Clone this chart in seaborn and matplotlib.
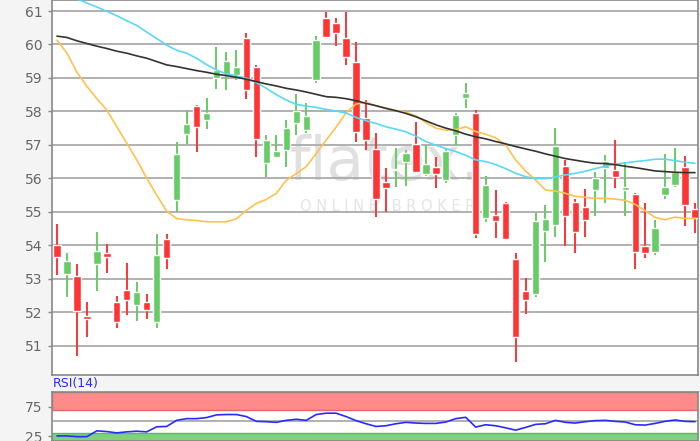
import numpy as np
import pandas as pd
import seaborn as sns
import matplotlib.pyplot as plt

opens = [54.00, 53.14, 53.08, 51.87, 53.44, 53.78, 52.30, 52.66, 52.22, 52.30,
         51.70, 54.18, 55.35, 57.32, 58.16, 57.74, 58.99, 59.09, 59.09, 60.18,
         59.34, 56.47, 56.65, 56.85, 57.66, 57.44, 58.94, 60.80, 60.63, 60.18,
         59.49, 57.79, 56.88, 55.90, 56.25, 56.50, 57.03, 56.13, 56.33, 55.95,
         57.30, 58.41, 57.96, 54.80, 54.90, 55.25, 53.58, 52.64, 52.54, 54.43,
         54.61, 56.37, 55.30, 55.13, 55.65, 56.30, 56.25, 55.65, 55.52, 53.98,
         53.81, 55.50, 55.80, 56.33, 55.08]
highs = [54.64, 53.78, 53.43, 52.30, 54.38, 54.04, 52.48, 53.46, 52.89, 52.54,
         54.33, 54.33, 57.08, 58.04, 58.20, 58.39, 59.93, 59.78, 59.83, 60.33,
         59.39, 57.29, 57.29, 57.74, 58.51, 58.24, 60.25, 60.98, 60.78, 60.98,
         60.08, 58.34, 57.34, 56.30, 56.90, 56.85, 57.69, 57.00, 56.63, 56.90,
         57.94, 58.84, 58.04, 56.07, 55.65, 55.30, 53.78, 53.03, 54.96, 55.20,
         57.49, 56.55, 55.37, 55.67, 56.18, 56.70, 57.15, 56.48, 55.57, 55.25,
         54.75, 56.73, 56.92, 56.67, 55.25]
lows = [53.11, 52.44, 50.69, 51.27, 52.63, 53.18, 51.52, 51.90, 51.72, 51.79,
        51.52, 53.28, 55.00, 57.03, 56.80, 57.46, 58.66, 58.64, 58.94, 58.36,
        56.63, 56.03, 56.60, 56.33, 57.29, 57.34, 58.86, 60.18, 59.96, 59.39,
        57.10, 56.85, 54.83, 55.00, 55.75, 55.77, 56.17, 56.08, 55.72, 55.87,
        56.98, 58.09, 54.21, 54.68, 54.21, 54.16, 50.52, 51.95, 52.46, 53.51,
        54.26, 53.98, 53.76, 54.26, 54.87, 55.27, 55.72, 54.87, 53.28, 53.61,
        53.71, 55.37, 55.73, 54.56, 54.36]
closes = [53.64, 53.54, 52.02, 51.79, 53.83, 53.64, 51.70, 52.36, 52.61, 52.05,
          53.71, 53.61, 56.73, 57.61, 57.54, 57.96, 59.24, 59.52, 59.32, 58.64,
          57.17, 57.15, 56.83, 57.49, 58.01, 57.87, 60.13, 60.23, 60.33, 59.62,
          57.39, 57.13, 55.38, 55.70, 56.29, 56.77, 56.18, 56.42, 56.13, 56.83,
          57.89, 58.54, 54.34, 55.80, 54.73, 54.18, 51.25, 52.36, 54.71, 54.77,
          56.97, 54.88, 54.38, 54.74, 56.00, 56.52, 56.05, 55.75, 53.81, 53.76,
          54.51, 55.75, 56.20, 55.20, 54.80]

# Gleitende Durchschnitte
ma_gelb = [60.13, 59.74, 59.17, 58.75, 58.38, 58.04, 57.54, 57.05, 56.55, 56.00,
           55.50, 55.02, 54.80, 54.76, 54.74, 54.70, 54.70, 54.70, 54.79, 55.04,
           55.25, 55.37, 55.55, 55.94, 56.14, 56.35, 56.74, 57.14, 57.53, 57.96,
           58.22, 58.27, 58.17, 58.10, 58.03, 57.97, 57.87, 57.67, 57.50, 57.44,
           57.46, 57.54, 57.40, 57.32, 57.21, 57.00, 56.55, 56.22, 55.95, 55.65,
           55.62, 55.55, 55.46, 55.43, 55.40, 55.40, 55.38, 55.34, 55.22, 55.03,
           54.83, 54.76, 54.84, 54.80, 54.80]
ma_cyan = [61.62, 61.49, 61.36, 61.24, 61.12, 60.99, 60.86, 60.71, 60.57, 60.37,
           60.18, 59.98, 59.83, 59.74, 59.59, 59.40, 59.24, 59.12, 59.06, 58.99,
           58.86, 58.69, 58.50, 58.34, 58.21, 58.16, 58.12, 58.06, 58.01, 57.95,
           57.82, 57.72, 57.64, 57.54, 57.47, 57.39, 57.26, 57.10, 56.99, 56.89,
           56.80, 56.69, 56.55, 56.50, 56.41, 56.29, 56.15, 56.05, 55.99, 55.99,
           56.04, 56.10, 56.15, 56.21, 56.29, 56.36, 56.42, 56.46, 56.50, 56.53,
           56.57, 56.57, 56.53, 56.48, 56.45]
ma_schwarz = [60.25, 60.21, 60.11, 60.03, 59.95, 59.88, 59.80, 59.74, 59.66, 59.59,
              59.49, 59.39, 59.34, 59.28, 59.22, 59.17, 59.11, 59.07, 59.02, 58.96,
              58.89, 58.82, 58.76, 58.69, 58.64, 58.58, 58.51, 58.44, 58.42, 58.38,
              58.32, 58.24, 58.17, 58.09, 58.02, 57.94, 57.84, 57.72, 57.60, 57.50,
              57.42, 57.32, 57.24, 57.18, 57.10, 57.03, 56.95, 56.88, 56.81, 56.73,
              56.66, 56.59, 56.54, 56.49, 56.45, 56.44, 56.41, 56.36, 56.32, 56.27,
              56.22, 56.20, 56.18, 56.17, 56.17]

rsi = [25.1, 25.1, 23.9, 23.9, 33.8, 32.6, 30.3, 32.1, 33.2, 32.1,
       40.7, 41.3, 51.7, 54.6, 54.6, 56.4, 61.0, 61.6, 61.6, 58.1,
       50.0, 49.4, 48.3, 51.7, 53.5, 51.7, 61.6, 63.9, 63.9, 58.1,
       51.2, 45.9, 41.3, 42.5, 45.9, 48.3, 47.1, 46.5, 46.5, 48.8,
       54.6, 56.9, 40.2, 44.2, 42.5, 39.0, 35.0, 39.6, 44.8, 45.9,
       51.7, 48.3, 47.1, 49.4, 51.2, 51.7, 50.0, 48.8, 44.2, 43.6,
       46.5, 50.0, 52.3, 50.0, 49.4]

df = pd.DataFrame({"open": opens, "high": highs, "low": lows, "close": closes,
                   "gelb": ma_gelb, "cyan": ma_cyan, "schwarz": ma_schwarz, "rsi": rsi})
df["tag"] = np.arange(len(df))

sns.set_style("white")
plt.rcParams["font.family"] = ["DejaVu Sans"]

fig = plt.figure(figsize=(7, 4.41), dpi=100, facecolor="#f4f4f4")
ax = fig.add_axes([52 / 700, 1 - 375 / 441, 646 / 700, 375 / 441])
ax2 = fig.add_axes([52 / 700, 0, 646 / 700, 49 / 441])

# Hauptchart
rot, gruen = "#ff3535", "#66cc66"
farben = np.where(df["close"] >= df["open"], gruen, rot)
unten = df[["open", "close"]].min(axis=1)
hoehe = (df["close"] - df["open"]).abs().clip(lower=0.04)
ax.vlines(df["tag"], df["low"], df["high"], colors=farben, linewidth=1.4, zorder=3)
ax.bar(df["tag"], hoehe, bottom=unten, width=0.74, color=farben, zorder=4)

sns.lineplot(data=df, x="tag", y="gelb", color="#ffc24d", linewidth=1.2, ax=ax, zorder=5)
sns.lineplot(data=df, x="tag", y="cyan", color="#5ad8f5", linewidth=1.2, ax=ax, zorder=5)
sns.lineplot(data=df, x="tag", y="schwarz", color="#333333", linewidth=1.2, ax=ax, zorder=5)

ax.set_xlim(-0.5, 64.3)
ax.set_ylim(50.12, 61.33)
ax.set_yticks(range(51, 62))
ax.set_xticks([])
ax.set_xlabel("")
ax.set_ylabel("")
ax.set_axisbelow(True)
ax.yaxis.grid(True, color="#aaaaaa", linewidth=1.3)
ax.tick_params(axis="y", colors="#888888", labelcolor="#666666", labelsize=10,
               length=3, width=1, left=True, pad=4)
for s in ax.spines.values():
    s.set_color("#888888")
    s.set_linewidth(1.2)

# Wasserzeichen
ax.text(0.515, 0.565, "flatex.", transform=ax.transAxes, ha="center", va="center",
        fontsize=44, color="#e0e0e0", family="DejaVu Sans", zorder=0.2)
ax.text(0.52, 0.45, "O N L I N E   B R O K E R", transform=ax.transAxes,
        ha="center", va="center", fontsize=10.5, color="#e4e4e4", zorder=0.2)

# RSI
ax2.axhspan(70, 100, facecolor="#ff8a8a", edgecolor="#e06a6a", linewidth=1, zorder=1)
ax2.axhspan(0, 30, facecolor="#80d080", edgecolor="#60b860", linewidth=1, zorder=1)
ax2.axhline(50, color="#aaaaaa", linewidth=1.3, zorder=1)
sns.lineplot(data=df, x="tag", y="rsi", color="#2a2aff", linewidth=1.2, ax=ax2, zorder=3)
ax2.set_xlim(-0.5, 64.3)
ax2.set_ylim(16.5, 100)
ax2.set_yticks([25, 75])
ax2.set_xticks([])
ax2.set_xlabel("")
ax2.set_ylabel("")
ax2.tick_params(axis="y", colors="#888888", labelcolor="#666666", labelsize=10,
                length=3, width=1, left=True, pad=4)
for s in ax2.spines.values():
    s.set_color("#888888")
    s.set_linewidth(1.2)
fig.text(53 / 700, 1 - 384 / 441, "RSI(14)", color="#2a2aff", fontsize=9,
         ha="left", va="center")

fig.savefig("out.png", dpi=100, facecolor=fig.get_facecolor())
